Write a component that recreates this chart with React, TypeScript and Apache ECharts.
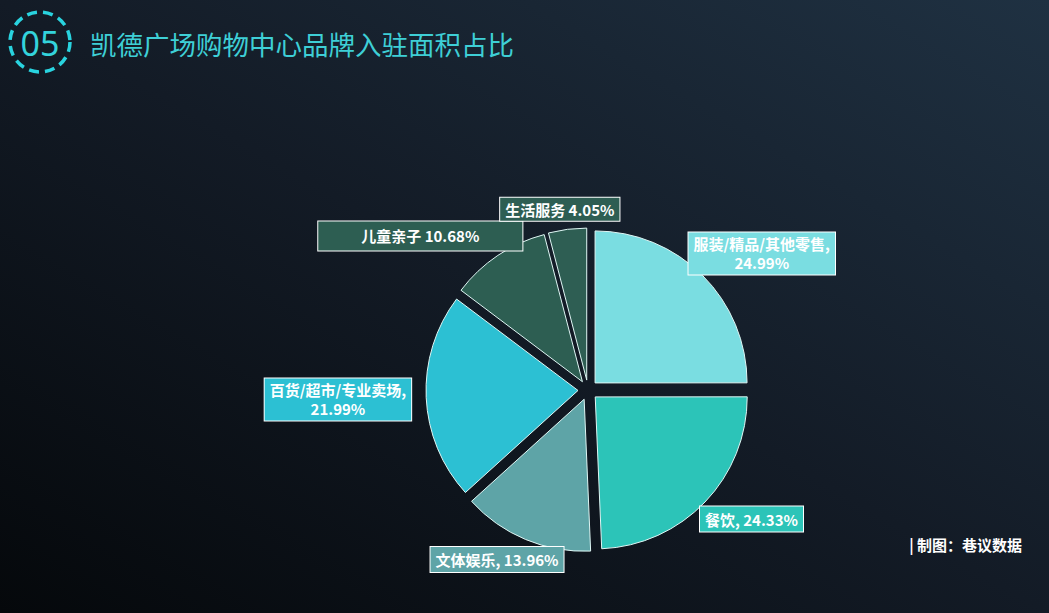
import React, { useEffect, useRef } from "react";
import * as echarts from "echarts";

const categories = ["服装/精品/其他零售", "餐饮", "文体娱乐", "百货/超市/专业卖场", "儿童亲子", "生活服务"];
const values = [24.99, 24.33, 13.96, 21.99, 10.68, 4.05];
const separators = [",\n", ", ", ", ", ",\n", " ", " "];
const colors = ["#7ADDE1", "#2CC4B8", "#5EA4A7", "#2CC0D3", "#2D5E52", "#2E5E53"];
const labelPaddings = [[2, 5], [3, 5], [3, 5], [2, 5], [5, 43], [2, 5]];
const labelShifts = [[-19, -22], [-10, 17], [43, 20], [-15, 2], [33, -25], [57, -20]];

export default function App() {
  const ref = useRef<HTMLDivElement>(null);
  useEffect(() => {
    document.body.style.margin = "0";
    const chart = echarts.init(ref.current!, null, { renderer: "svg" });
    const data = categories.map((name, i) => ({
      name,
      value: values[i],
      selected: true,
      itemStyle: { color: colors[i] },
      label: {
        backgroundColor: colors[i],
        padding: labelPaddings[i],
      },
    }));
    chart.setOption({
      animation: false,
      backgroundColor: {
        type: "linear",
        x: 1, y: 0, x2: 0, y2: 1,
        colorStops: [
          { offset: 0, color: "#1f3142" },
          { offset: 0.5, color: "#131b26" },
          { offset: 1, color: "#05080b" },
        ],
      },
      graphic: [
        {
          type: "circle",
          shape: { cx: 40, cy: 42, r: 30 },
          style: { fill: "none", stroke: "#29D3DF", lineWidth: 3.5, lineDash: [10, 6] },
        },
        {
          type: "text",
          x: 40, y: 43,
          style: {
            text: "05", fill: "#33D3DC", font: "34px 'Noto Sans', 'Noto Sans CJK SC', sans-serif",
            align: "center", verticalAlign: "middle",
          },
        },
        {
          type: "text",
          x: 90, y: 43,
          style: {
            text: "凯德广场购物中心品牌入驻面积占比", fill: "#3ECFD6",
            font: "26.5px 'Noto Sans CJK SC', sans-serif",
            align: "left", verticalAlign: "middle",
          },
        },
        {
          type: "text",
          x: 1022, y: 544,
          style: {
            text: "| 制图：巷议数据", fill: "#ffffff",
            font: "bold 15px 'Noto Sans CJK SC', sans-serif",
            align: "right", verticalAlign: "middle",
          },
        },
      ],
      series: [
        {
          type: "pie",
          center: [588, 390],
          radius: 152,
          startAngle: 90,
          clockwise: true,
          selectedMode: "multiple",
          selectedOffset: 10,
          emphasis: { disabled: true },
          itemStyle: { borderColor: "#dff6f4", borderWidth: 1 },
          label: {
            show: true,
            position: "outside",
            color: "#ffffff",
            fontWeight: "bold",
            fontSize: 15,
            lineHeight: 19,
            fontFamily: "'Noto Sans CJK SC', sans-serif",
            borderColor: "#ffffff",
            borderWidth: 1,
            formatter: (p: any) => {
              const lines = `${p.name}${separators[p.dataIndex]}${p.value.toFixed(2)}%`.split("\n");
              return lines.map((l) => `{c|${l}}`).join("\n");
            },
            rich: {
              c: {
                align: "center",
                color: "#ffffff",
                fontWeight: "bold",
                fontSize: 15,
                lineHeight: 19,
                fontFamily: "'Noto Sans CJK SC', sans-serif",
              },
            },
          },
          labelLine: { show: false, length: 0, length2: 0 },
          labelLayout: (p: any) => ({ dx: labelShifts[p.dataIndex][0], dy: labelShifts[p.dataIndex][1] }),
          data,
        },
      ],
    });
    return () => chart.dispose();
  }, []);
  return <div ref={ref} style={{ position: "fixed", left: 0, top: 0, width: 1049, height: 613 }} />;
}
